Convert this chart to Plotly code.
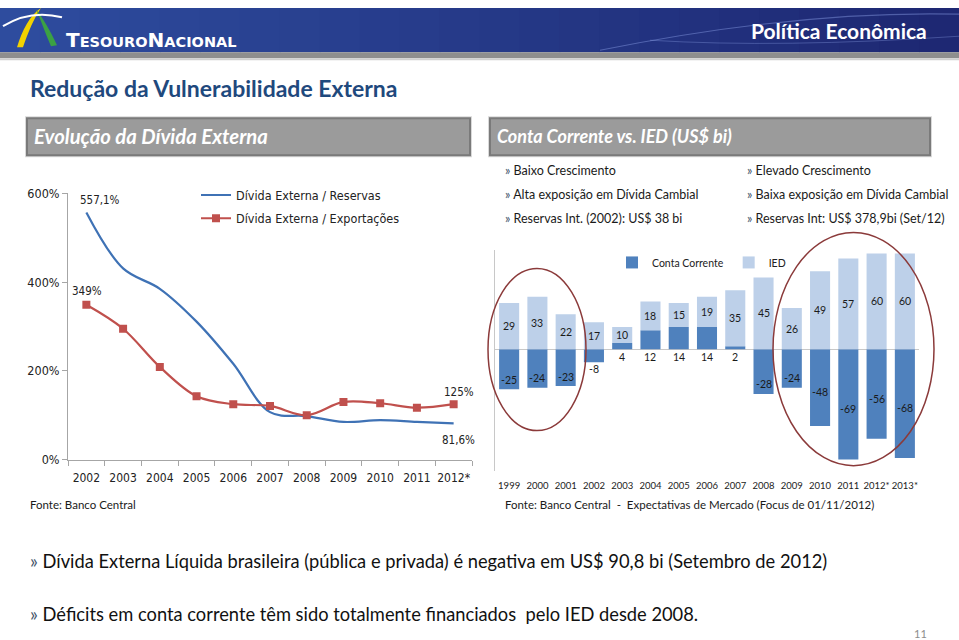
import plotly.graph_objects as go

# ---------------- data ----------------
years_left = ['2002', '2003', '2004', '2005', '2006', '2007', '2008', '2009', '2010', '2011', '2012*']
divida_reservas = [557.1, 431, 385, 311, 216, 107, 98, 85, 89, 85, 81.6]
divida_exportacoes = [349, 295, 209, 143, 125, 121, 100, 130, 127, 117, 125]
left_ticks = [0, 200, 400, 600]
left_ticktext = ['0%', '200%', '400%', '600%']

years_right = ['1999', '2000', '2001', '2002', '2003', '2004', '2005', '2006', '2007',
               '2008', '2009', '2010', '2011', '2012*', '2013*']
conta_corrente = [-25, -24, -23, -8, 4, 12, 14, 14, 2, -28, -24, -48, -69, -56, -68]
ied = [29, 33, 22, 17, 10, 18, 15, 19, 35, 45, 26, 49, 57, 60, 60]

W, H = 959, 640
FONT = "Lato, 'Open Sans', sans-serif"
NARROW = "'DejaVu Sans Condensed', Lato, sans-serif"
VS = 0.9756   # vertical squeeze observed in the photographed page
VOFF = 8      # vertical offset observed in the photographed page


def px(x):
    return x / W


def py(y):
    yd = max(0.0, y / VS - VOFF)
    return 1 - yd / H


fig = go.Figure()

# ---------------- left chart ----------------
fig.add_trace(go.Scatter(
    x=years_left, y=divida_reservas, mode='lines', name='Dívida Externa / Reservas',
    line=dict(color='#3F72B5', width=2.2, shape='spline'), xaxis='x', yaxis='y',
    legend='legend', legendgroup='a'))
fig.add_trace(go.Scatter(
    x=years_left, y=divida_exportacoes, mode='lines+markers', name='Dívida Externa / Exportações',
    line=dict(color='#C0504D', width=2.2, shape='spline'),
    marker=dict(symbol='square', size=8, color='#C0504D'), xaxis='x', yaxis='y',
    legend='legend', legendgroup='b'))

# ---------------- right chart ----------------
fig.add_trace(go.Bar(
    x=years_right, y=conta_corrente, name='Conta Corrente', marker=dict(color='#4F81BD', line_width=0),
    xaxis='x2', yaxis='y2', legend='legend2'))
fig.add_trace(go.Bar(
    x=years_right, y=ied, name='IED', marker=dict(color='#BDD0E9', line_width=0),
    xaxis='x2', yaxis='y2', legend='legend2'))

annotations = []
shapes = []

# bar labels derived from data (category index used as x position)
bar_font = dict(size=10.5, color='#1a1a1a', family=FONT)
for i, (cc, v) in enumerate(zip(conta_corrente, ied)):
    annotations.append(dict(x=i, y=max(cc, 0) + v / 2, xref='x2', yref='y2', text=str(v),
                            showarrow=False, font=bar_font))
    if cc > 0:
        ly = -4.5
    elif cc > -10:
        ly = cc - 4
    elif cc > -40:
        ly = cc + 6
    else:
        ly = cc / 2 - 3
    annotations.append(dict(x=i, y=ly, xref='x2', yref='y2', text=str(cc),
                            showarrow=False, font=bar_font))

# left chart data labels
lab_font = dict(size=11.5, color='#222', family=NARROW)
last = len(years_left) - 1
annotations += [
    dict(x=0, y=divida_reservas[0], xref='x', yref='y', text='557,1%', showarrow=False,
         xshift=14, yshift=12, font=lab_font),
    dict(x=0, y=divida_exportacoes[0], xref='x', yref='y', text='349%', showarrow=False,
         xshift=1, yshift=14, font=lab_font),
    dict(x=last, y=divida_exportacoes[-1], xref='x', yref='y', text='125%', showarrow=False,
         xshift=5, yshift=12, font=lab_font),
    dict(x=last, y=divida_reservas[-1], xref='x', yref='y', text='81,6%', showarrow=False,
         xshift=5, yshift=-17, font=lab_font),
]

# ---------------- header band ----------------
n = 24
c0 = (46, 76, 158)
c1 = (30, 40, 115)
for i in range(n):
    t = i / (n - 1)
    col = 'rgb(%d,%d,%d)' % tuple(int(a + (b - a) * t) for a, b in zip(c0, c1))
    shapes.append(dict(type='rect', xref='paper', yref='paper', x0=px(W * i / n), x1=px(W * (i + 1) / n + 1),
                       y0=py(52), y1=1, fillcolor=col, line_width=0, layer='below'))
shapes.append(dict(type='rect', xref='paper', yref='paper', x0=0, x1=1, y0=py(58), y1=py(52),
                   fillcolor='#8E8E8E', line_width=0, layer='below'))
shapes.append(dict(type='rect', xref='paper', yref='paper', x0=0, x1=1, y0=py(60), y1=py(58),
                   fillcolor='#D0D0D0', line_width=0, layer='below'))


def path(cmds):
    out = []
    for c in cmds:
        if isinstance(c, str):
            out.append(c)
        else:
            out.append('%.5f,%.5f' % (px(c[0]), py(c[1])))
    return ' '.join(out)


# faint swoosh lines in header
shapes.append(dict(type='path', xref='paper', yref='paper', layer='below',
                   path=path(['M', (600, 50), 'Q', (800, 10), (959, 14)]),
                   line=dict(color='rgba(140,160,230,0.45)', width=1.2)))
shapes.append(dict(type='path', xref='paper', yref='paper', layer='below',
                   path=path(['M', (650, 40), 'Q', (780, 48), (959, 36)]),
                   line=dict(color='rgba(140,160,230,0.35)', width=1)))

# logo swooshes
shapes.append(dict(type='path', xref='paper', yref='paper',
                   path=path(['M', (17, 47), 'C', (22, 30), (30, 15), (41, 7), 'C', (34, 18), (28, 32), (23, 47), 'Z']),
                   fillcolor='#F2D200', line=dict(width=0)))
shapes.append(dict(type='path', xref='paper', yref='paper',
                   path=path(['M', (51, 46), 'C', (45, 32), (41, 20), (36, 9), 'C', (43, 18), (50, 30), (57, 45), 'Z']),
                   fillcolor='#3BA144', line=dict(width=0)))
shapes.append(dict(type='path', xref='paper', yref='paper',
                   path=path(['M', (3, 26), 'Q', (30, 9), (62, 17)]),
                   line=dict(color='white', width=2)))

annotations.append(dict(x=px(64), y=py(40), xref='paper', yref='paper', xanchor='left', yanchor='middle',
                        showarrow=False,
                        text="<b>T<span style='font-size:14.5px'>ESOURO</span>N<span style='font-size:14.5px'>ACIONAL</span></b>",
                        font=dict(size=20, color='white', family="'DejaVu Sans', sans-serif")))
annotations.append(dict(x=px(929), y=py(30), xref='paper', yref='paper', xanchor='right', yanchor='middle',
                        showarrow=False, text='<b>Política Econômica</b>',
                        font=dict(size=21, color='white', family=FONT)))

# title
annotations.append(dict(x=px(28), y=py(88), xref='paper', yref='paper', xanchor='left', yanchor='middle',
                        showarrow=False, text='<b>Redução da Vulnerabilidade Externa</b>',
                        font=dict(size=23, color='#1F497D', family=FONT)))

# section boxes
for x0, x1, txt, fs in [(27, 470, 'Evolução da Dívida Externa', 20.3),
                        (490, 930, 'Conta Corrente vs. IED (US$ bi)', 18)]:
    shapes.append(dict(type='rect', xref='paper', yref='paper', x0=px(x0 - 2), x1=px(x1 + 2), y0=py(157), y1=py(116),
                       fillcolor='#D9D9D9', line_width=0, layer='below'))
    shapes.append(dict(type='rect', xref='paper', yref='paper', x0=px(x0), x1=px(x1), y0=py(155), y1=py(118),
                       fillcolor='#9B9B9B', line=dict(color='#7A7A7A', width=2), layer='below'))
    annotations.append(dict(x=px(x0 + 5), y=py(136), xref='paper', yref='paper', xanchor='left', yanchor='middle',
                            showarrow=False, text='<b><i>%s</i></b>' % txt,
                            font=dict(size=fs, color='white', family=FONT)))

# bullets under right header
bul_left = ['Baixo Crescimento', 'Alta exposição em Dívida Cambial', 'Reservas Int. (2002): US$ 38 bi']
bul_right = ['Elevado Crescimento', 'Baixa exposição em Dívida Cambial', 'Reservas Int: US$ 378,9bi (Set/12)']
for i, (a, b) in enumerate(zip(bul_left, bul_right)):
    yy = py(170 + 24 * i)
    for xx, t in [(503, a), (745, b)]:
        annotations.append(dict(x=px(xx), y=yy, xref='paper', yref='paper', xanchor='left', yanchor='middle',
                                showarrow=False,
                                text="<span style='color:#44546A'>»</span> " + t,
                                font=dict(size=12.5, color='#1a1a1a', family=FONT)))

# sources
annotations.append(dict(x=px(28), y=py(504), xref='paper', yref='paper', xanchor='left', yanchor='middle',
                        showarrow=False, text='Fonte: Banco Central',
                        font=dict(size=11.5, color='#1a1a1a', family=FONT)))
annotations.append(dict(x=px(503), y=py(504), xref='paper', yref='paper', xanchor='left', yanchor='middle',
                        showarrow=False, text='Fonte: Banco Central  -  Expectativas de Mercado (Focus de 01/11/2012)',
                        font=dict(size=11.5, color='#1a1a1a', family=FONT)))

# bottom bullets
for yy, t in [(560, 'Dívida Externa Líquida brasileira (pública e privada) é negativa em US$ 90,8 bi (Setembro de 2012)'),
              (613, 'Déficits em conta corrente têm sido totalmente financiados  pelo IED desde 2008.')]:
    annotations.append(dict(x=px(28), y=py(yy), xref='paper', yref='paper', xanchor='left', yanchor='middle',
                            showarrow=False, text="<span style='color:#44546A'>»</span> " + t,
                            font=dict(size=18.3, color='#111', family=FONT)))

annotations.append(dict(x=px(929), y=py(633), xref='paper', yref='paper', xanchor='right', yanchor='middle',
                        showarrow=False, text='11', font=dict(size=11, color='#8C8C8C', family=FONT)))

# ellipses (highlight)
shapes.append(dict(type='circle', xref='paper', yref='paper', x0=px(488), x1=px(586), y0=py(430), y1=py(268),
                   line=dict(color='#8B3A3A', width=1.5), layer='above'))
shapes.append(dict(type='circle', xref='paper', yref='paper', x0=px(773), x1=px(934), y0=py(465), y1=py(232),
                   line=dict(color='#8B3A3A', width=1.5), layer='above'))

fig.update_layout(
    width=W, height=H, margin=dict(l=0, r=0, t=0, b=0),
    paper_bgcolor='white', plot_bgcolor='rgba(0,0,0,0)',
    font=dict(family=FONT, color='#222'),
    barmode='relative', bargap=0.29,
    xaxis=dict(domain=[px(68), px(472)], type='category', range=[-0.5, 10.5], anchor='y',
               showline=True, linecolor='#A6A6A6', ticks='outside', tickson='boundaries', ticklen=5,
               tickcolor='#A6A6A6', showgrid=False, tickangle=0, ticklabelstandoff=7,
               tickfont=dict(size=12, family=NARROW, color='#222')),
    yaxis=dict(domain=[py(459), py(193)], range=[0, 600], anchor='x', tickvals=left_ticks, ticktext=left_ticktext,
               showline=True, linecolor='#A6A6A6', ticks='outside', ticklen=5, tickcolor='#A6A6A6',
               showgrid=False, zeroline=False, tickfont=dict(size=12.5, family=NARROW, color='#222')),
    xaxis2=dict(domain=[px(495), px(919)], type='category', range=[-0.5, 14.5], anchor='y2',
                showline=False, ticks='', showgrid=False, ticklabelstandoff=8, tickangle=0,
                tickfont=dict(size=9.5, family=FONT, color='#222')),
    yaxis2=dict(domain=[py(470), py(250)], range=[-76, 62], anchor='x2', showticklabels=False,
                showline=True, linecolor='#C8C8C8', showgrid=False, zeroline=True,
                zerolinecolor='#C8C8C8', zerolinewidth=1, ticks=''),
    legend=dict(x=px(196), y=py(180), xanchor='left', yanchor='top', bgcolor='rgba(0,0,0,0)',
                font=dict(size=12.5, family=NARROW, color='#222'), tracegroupgap=4, itemwidth=30),
    legend2=dict(x=px(612), y=py(262), xanchor='left', yanchor='middle', orientation='h',
                 bgcolor='rgba(0,0,0,0)', font=dict(size=10.5, family=FONT, color='#222')),
    annotations=annotations, shapes=shapes,
)

fig.write_html('out.html',
               post_script="document.documentElement.style.background="
                           "'linear-gradient(to right, rgb(46,76,158), rgb(30,40,115)) top left / 100% 8px no-repeat, white';")
